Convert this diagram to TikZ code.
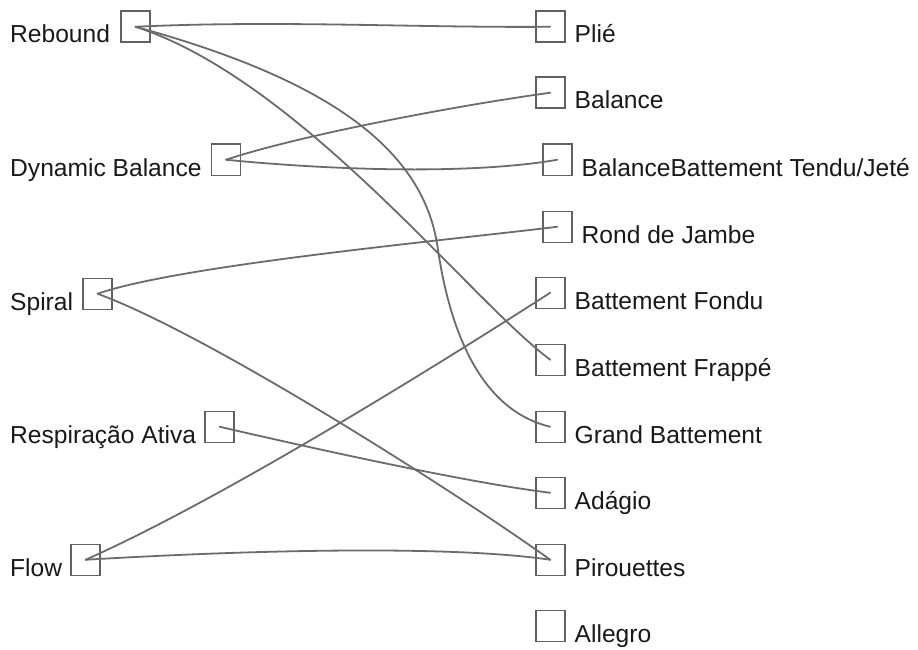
\documentclass[tikz,border=0pt]{standalone}
\usepackage{fontspec}
\setmainfont{Liberation Sans}
\usetikzlibrary{positioning}

\definecolor{pen}{gray}{0.42}
\definecolor{boxgray}{gray}{0.38}

\tikzset{
  box/.style = {draw=boxgray, line width=1.5pt, minimum width=29pt,
                minimum height=31pt, inner sep=0pt},
  item/.style = {inner sep=0pt, font=\fontsize{24.6}{29}\selectfont, text=black!90},
  link/.style = {pen, line width=1.8pt, line cap=round}
}

\begin{document}
\begin{tikzpicture}[x=1pt,y=-1pt]
  \useasboundingbox (0,0) rectangle (918,650);

  % left column
  \node [item,anchor=base west] (reb-t) at (10,43) {Rebound};
  \node [box,anchor=south west] (reb) at ([xshift=10pt]reb-t.base east) {};
  \node [item,anchor=base west] (dyn-t) at (10,176) {Dynamic Balance};
  \node [box,anchor=south west] (dyn) at ([xshift=9pt]dyn-t.base east) {};
  \node [item,anchor=base west] (spi-t) at (10,310) {Spiral};
  \node [box,anchor=south west] (spi) at ([xshift=9pt]spi-t.base east) {};
  \node [item,anchor=base west] (res-t) at (10,443) {Respiração Ativa};
  \node [box,anchor=south west] (res) at ([xshift=8pt]res-t.base east) {};
  \node [item,anchor=base west] (flo-t) at (10,576) {Flow};
  \node [box,anchor=south west] (flo) at ([xshift=8pt]flo-t.base east) {};

  % right column
  \node [box,anchor=south west] (pli) at (535,43) {};
  \node [item,anchor=base west] at ([xshift=9pt]pli.south east) {Plié};
  \node [box,anchor=south west] (bal) at (535,109) {};
  \node [item,anchor=base west] at ([xshift=9pt]bal.south east) {Balance};
  \node [box,anchor=south west] (btj) at (542,176) {};
  \node [item,anchor=base west] at ([xshift=9pt]btj.south east) {BalanceBattement Tendu/Jeté};
  \node [box,anchor=south west] (rdj) at (542,243) {};
  \node [item,anchor=base west] at ([xshift=9pt]rdj.south east) {Rond de Jambe};
  \node [box,anchor=south west] (bfo) at (535,309) {};
  \node [item,anchor=base west] at ([xshift=9pt]bfo.south east) {Battement Fondu};
  \node [box,anchor=south west] (bfr) at (535,376) {};
  \node [item,anchor=base west] at ([xshift=9pt]bfr.south east) {Battement Frappé};
  \node [box,anchor=south west] (grb) at (535,443) {};
  \node [item,anchor=base west] at ([xshift=9pt]grb.south east) {Grand Battement};
  \node [box,anchor=south west] (ada) at (535,509) {};
  \node [item,anchor=base west] at ([xshift=9pt]ada.south east) {Adágio};
  \node [box,anchor=south west] (pir) at (535,576) {};
  \node [item,anchor=base west] at ([xshift=9pt]pir.south east) {Pirouettes};
  \node [box,anchor=south west] (all) at (535,642) {};
  \node [item,anchor=base west] at ([xshift=9pt]all.south east) {Allegro};

  % links
  \coordinate (grb-bend) at (438,250);
  \draw [link] (reb.center) .. controls (280,20) and (420,28) .. (pli.center);
  \draw [link] (reb.center) .. controls (300,80) and (470,300) .. (bfr.center);
  \draw [link] (reb.center) .. controls (330,80) and (425,150) .. (grb-bend)
                            .. controls (450,330) and (480,410) .. (grb.center);
  \draw [link] (dyn.center) .. controls (300,135) and (460,105) .. (bal.center);
  \draw [link] (dyn.center) .. controls (330,170) and (470,175) .. (btj.center);
  \draw [link] (spi.center) .. controls (180,265) and (450,240) .. (rdj.center);
  \draw [link] (spi.center) .. controls (210,335) and (460,495) .. (pir.center);
  \draw [link] (res.center) .. controls (320,450) and (470,483) .. (ada.center);
  \draw [link] (flo.center) .. controls (220,500) and (430,370) .. (bfo.center);
  \draw [link] (flo.center) .. controls (250,550) and (450,545) .. (pir.center);
\end{tikzpicture}
\end{document}
